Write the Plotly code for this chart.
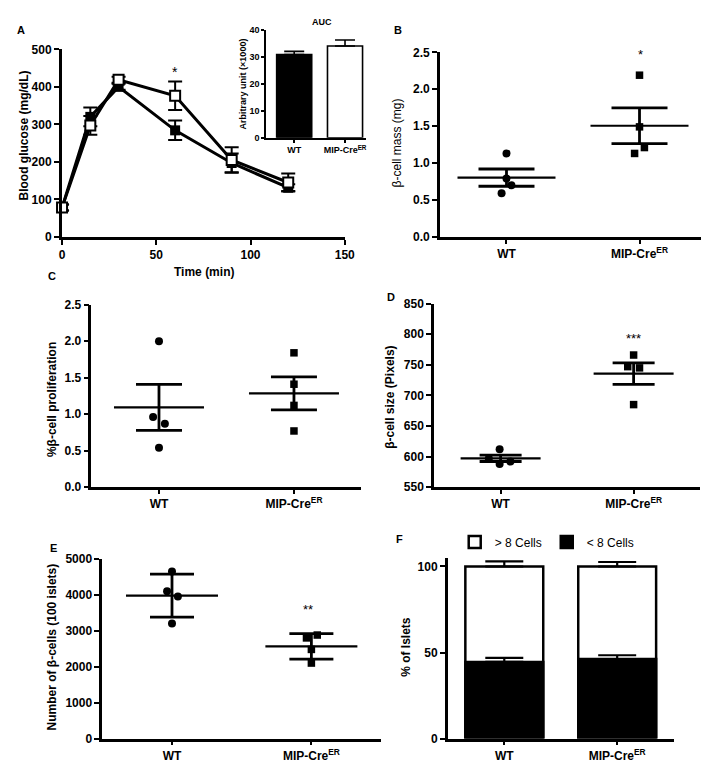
import numpy as np
import plotly.graph_objects as go

W, H = 709, 766
FONT = "Liberation Sans, Arial, sans-serif"

# ---------------- data ----------------
groups = ["WT", "MIP-Cre<sup>ER</sup>"]

# Panel A: glucose tolerance test
time_min = [0, 15, 30, 60, 90, 120]
gtt_wt_mean = [78, 320, 400, 284, 197, 131]
gtt_wt_sem = [8, 25, 8, 26, 25, 9]
gtt_cre_mean = [78, 297, 419, 376, 205, 145]
gtt_cre_sem = [8, 25, 8, 38, 34, 24]

# Panel A inset: AUC (x1000)
auc_mean = [30.8, 34.0]
auc_sem = [1.2, 2.2]

# Panel B: beta-cell mass (mg)
mass_wt = [1.13, 0.79, 0.70, 0.59]
mass_cre = [2.19, 1.49, 1.21, 1.13]

# Panel C: % beta-cell proliferation
prolif_wt = [2.00, 0.96, 0.87, 0.54]
prolif_cre = [1.84, 1.41, 1.12, 0.77]

# Panel D: beta-cell size (pixels)
size_wt = [612, 597, 588, 592]
size_cre = [766, 747, 745, 685]

# Panel E: number of beta-cells (100 islets)
count_wt = [4650, 4100, 3950, 3200]
count_cre = [2880, 2800, 2480, 2100]

# Panel F: % of islets
lt8_pct = [44.5, 46.2]
lt8_sem = [2.4, 2.2]
gt8_pct = [55.5, 53.8]
total_sem = [3.0, 2.6]

# ---------------- helpers ----------------
def px_x(p):
    return p / W

def px_y(p):
    return 1 - p / H

def tfont(size=12):
    return dict(family=FONT, size=size, color="black", weight="bold")

def axis(dom, **kw):
    d = dict(domain=dom, showline=True, linewidth=2.6, linecolor="black",
             ticks="outside", ticklen=5, tickwidth=2.4, tickcolor="black",
             showgrid=False, zeroline=False, tickfont=tfont(12))
    d.update(kw)
    return d

fig = go.Figure()
layout = {}
annotations = []

def ann(text, x, y, size=12, bold=True, angle=0, xanchor="center", yanchor="middle"):
    annotations.append(dict(text=text, x=px_x(x), y=px_y(y), xref="paper", yref="paper",
                            showarrow=False, textangle=angle, xanchor=xanchor, yanchor=yanchor,
                            font=dict(family=FONT, size=size, color="black",
                                      weight="bold" if bold else "normal")))

# ---------------- Panel A ----------------
layout["xaxis"] = axis([px_x(52), px_x(340)], anchor="y", range=[0, 150],
                       tickvals=[0, 50, 100, 150], linewidth=3, tickfont=tfont(12))
layout["yaxis"] = axis([px_y(226), px_y(35)], anchor="x", range=[0, 500],
                       tickvals=[0, 100, 200, 300, 400, 500], linewidth=3, tickfont=tfont(12))

fig.add_trace(go.Scatter(x=time_min, y=gtt_wt_mean, xaxis="x", yaxis="y", mode="lines+markers",
                         line=dict(color="black", width=3),
                         marker=dict(symbol="square", size=10, color="black"),
                         error_y=dict(type="data", array=gtt_wt_sem, color="black", thickness=2, width=7),
                         cliponaxis=False, showlegend=False))
fig.add_trace(go.Scatter(x=time_min, y=gtt_cre_mean, xaxis="x", yaxis="y", mode="lines+markers",
                         line=dict(color="black", width=3),
                         marker=dict(symbol="square", size=10, color="white",
                                     line=dict(color="black", width=2)),
                         error_y=dict(type="data", array=gtt_cre_sem, color="black", thickness=2, width=7),
                         cliponaxis=False, showlegend=False))
ann("*", 60 / 150 * (340 - 52) + 52, 58, size=14, bold=False)
ann("Blood glucose (mg/dL)", 13, 123, size=12, angle=-90)
ann("Time (min)", 197, 262, size=12)
ann("A", 4, 15, size=11, xanchor="left")

# Inset AUC
layout["xaxis2"] = axis([px_x(260), px_x(362)], anchor="y2", range=[-0.55, 1.42],
                        tickvals=[0, 1], ticktext=groups, linewidth=1.8, tickwidth=1.6, ticklen=3,
                        tickfont=tfont(9))
layout["yaxis2"] = axis([px_y(125), px_y(15)], anchor="x2", range=[0, 40],
                        tickvals=[0, 10, 20, 30, 40], linewidth=1.8, tickwidth=1.6, ticklen=3,
                        tickfont=tfont(9))
fig.add_trace(go.Bar(x=[0, 1], y=auc_mean, xaxis="x2", yaxis="y2", width=0.69,
                     marker=dict(color=["black", "white"], line=dict(color="black", width=1.6)),
                     error_y=dict(type="data", array=auc_sem, arrayminus=[0, 0], symmetric=False,
                                  color="black", thickness=1.6, width=10),
                     showlegend=False))
ann("AUC", 317, 7, size=9)
ann("Arbitrary unit (×1000)", 236, 70, size=9, angle=-90)

# ---------------- dot panels ----------------
LINE_EW = 1.4  # plotly's line-ew symbol length is 1.4 x marker size

def dot_panel(n, domx, domy, rng, tickvals, wt, cre, off_wt, off_cre,
              mean_half, cap_half, use_sd=False, tickformat=None):
    xa, ya = f"x{n}", f"y{n}"
    width_px = domx[1] - domx[0]
    unit_px = width_px / 2.0
    layout[f"xaxis{n}"] = axis([px_x(domx[0]), px_x(domx[1])], anchor=ya, range=[-0.5, 1.5],
                               tickvals=[0, 1], ticktext=groups, ticklen=4)
    yk = dict(range=rng, tickvals=tickvals)
    if tickformat:
        yk["tickformat"] = tickformat
    layout[f"yaxis{n}"] = axis([px_y(domy[1]), px_y(domy[0])], anchor=xa, **yk)
    for i, (vals, offs, sym, sz) in enumerate([(wt, off_wt, "circle", 8), (cre, off_cre, "square", 7.5)]):
        vals = np.asarray(vals, dtype=float)
        m = vals.mean()
        sd = vals.std(ddof=1)
        e = sd if use_sd else sd / np.sqrt(len(vals))
        fig.add_trace(go.Scatter(x=[i + o / unit_px for o in offs], y=vals, xaxis=xa, yaxis=ya,
                                 mode="markers", marker=dict(symbol=sym, size=sz, color="black"),
                                 cliponaxis=False, showlegend=False))
        fig.add_trace(go.Scatter(x=[i], y=[m], xaxis=xa, yaxis=ya, mode="markers",
                                 marker=dict(symbol="line-ew", size=2 * mean_half / LINE_EW,
                                             line=dict(color="black", width=2.2)),
                                 error_y=dict(type="data", array=[e], color="black",
                                              thickness=2.8, width=cap_half),
                                 cliponaxis=False, showlegend=False))

# B
dot_panel(3, (437, 708), (38, 226), [0, 2.5], [0, 0.5, 1.0, 1.5, 2.0, 2.5],
          mass_wt, mass_cre, [0, 0, 5, -5], [0, 0, 5, -5], 49, 28, tickformat=".1f")
ann("*", 641, 40, size=13, bold=False)
ann("β-cell mass (mg)", 393, 130, size=12, bold=False, angle=-90)
ann("B", 388, 15, size=11, xanchor="left")

# C
dot_panel(4, (82, 357), (295, 481), [0, 2.5], [0, 0.5, 1.0, 1.5, 2.0, 2.5],
          prolif_wt, prolif_cre, [0, -6, 6, 0], [0, 0, 0, 0], 45, 23, tickformat=".1f")
ann("%β-cell proliferation", 42, 392, size=12, angle=-90)
ann("C", 36, 266, size=11, xanchor="left")

# D
dot_panel(5, (431, 702), (294, 481), [550, 850], [550, 600, 650, 700, 750, 800, 850],
          size_wt, size_cre, [-1, -12, -1, 10], [0, -6, 6, 0], 40, 21)
ann("***", 634, 330, size=13, bold=False)
ann("β-cell size (Pixels)", 386, 389, size=12, angle=-90)
ann("D", 381, 287, size=11, xanchor="left")

# E
dot_panel(6, (93, 377), (554, 737), [0, 5000], [0, 1000, 2000, 3000, 4000, 5000],
          count_wt, count_cre, [0, -5, 6, 0], [6, -5, 0, 0], 46, 22, use_sd=True)
ann("**", 303, 606, size=13, bold=False)
ann("Number of β-cells (100 islets)", 42, 644, size=12, angle=-90)
ann("E", 38, 543, size=11, xanchor="left")

# ---------------- Panel F ----------------
layout["xaxis7"] = axis([px_x(445), px_x(675)], anchor="y7", range=[-0.5, 1.5],
                        tickvals=[0, 1], ticktext=groups, ticklen=4)
layout["yaxis7"] = axis([px_y(737), px_y(553)], anchor="x7", range=[0, 105],
                        tickvals=[0, 50, 100])
total_pct = [a + b for a, b in zip(lt8_pct, gt8_pct)]
fig.add_trace(go.Bar(x=[0, 1], y=total_pct, xaxis="x7", yaxis="y7", width=0.69, name="> 8 Cells",
                     marker=dict(color="white", line=dict(color="black", width=2.5)),
                     error_y=dict(type="data", array=total_sem, arrayminus=[0, 0], symmetric=False,
                                  color="black", thickness=2.2, width=19)))
fig.add_trace(go.Bar(x=[0, 1], y=lt8_pct, xaxis="x7", yaxis="y7", width=0.69, name="< 8 Cells",
                     marker=dict(color="black", line=dict(color="black", width=2.5)),
                     error_y=dict(type="data", array=lt8_sem, arrayminus=[0, 0], symmetric=False,
                                  color="black", thickness=2.2, width=19)))
ann("% of Islets", 403, 644, size=12, angle=-90)
ann("F", 390, 534, size=11, xanchor="left")

fig.update_layout(**layout)
fig.update_layout(
    width=W, height=H, margin=dict(l=0, r=0, t=0, b=0),
    paper_bgcolor="white", plot_bgcolor="white",
    barmode="overlay",
    font=dict(family=FONT, color="black"),
    annotations=annotations,
    legend=dict(orientation="h", x=px_x(452), y=px_y(522), xanchor="left", yanchor="top",
                font=dict(family=FONT, size=12, color="black"), bgcolor="rgba(0,0,0,0)",
                traceorder="normal", itemwidth=30),
)
fig.write_html("out.html")
